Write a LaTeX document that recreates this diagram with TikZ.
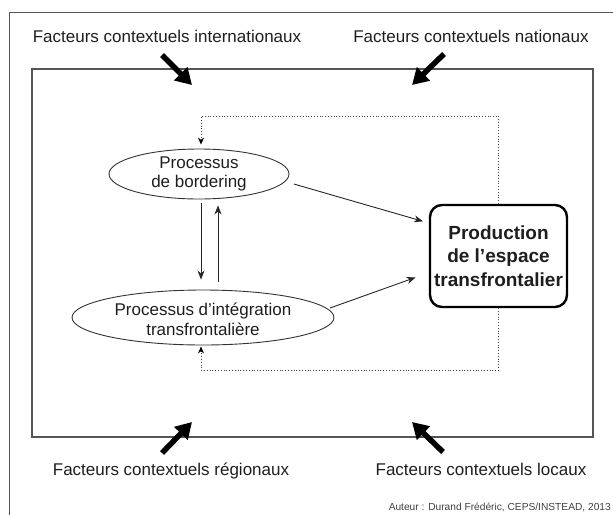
\documentclass[tikz,border=0pt]{standalone}
\usepackage{fontspec}
\setmainfont{Liberation Sans}
\usetikzlibrary{positioning,arrows.meta,calc,shapes.geometric}
\definecolor{framegray}{RGB}{85,85,85}
\definecolor{dotgray}{RGB}{70,70,70}
\definecolor{inkgray}{RGB}{30,30,30}
\tikzset{
  ctxlabel/.style={font=\fontsize{17}{20}\selectfont,inner sep=0pt,text=inkgray},
  procell/.style={draw=black!80,ellipse,line width=0.9pt,inner sep=0pt},
  proctext/.style={align=center,font=\fontsize{17}{19.5}\selectfont,inner sep=0pt,text=inkgray},
  prodbox/.style={draw=black,line width=2.4pt,rounded corners=12pt,minimum width=137pt,minimum height=102pt,align=center,font=\fontsize{19}{23.5}\selectfont\bfseries,text=inkgray},
  flow/.style={-{Stealth[length=9pt,width=7pt]},line width=0.9pt,draw=black!85},
  backflow/.style={-{Stealth[length=7pt,width=6pt,fill=black,color=black]},dotted,line width=0.8pt,draw=dotgray},
  bigarrow/.style={-{Triangle[length=16pt,width=18pt]},line width=5.5pt},
}
\begin{document}
\begin{tikzpicture}[x=1pt,y=-1pt]
  \useasboundingbox (0,0) rectangle (613,515);
  % outer frame, cut at right and bottom
  \draw[framegray,line width=0.9pt] (9,515) -- (9,12) -- (613,12);
  % inner frame
  \node[draw=framegray,line width=1.1pt,minimum width=561pt,minimum height=368pt,inner sep=0pt] (frame) at (312.5,253) {};
  % contextual factors
  \node[ctxlabel,anchor=base] (intl) at (167,42.5) {Facteurs contextuels internationaux};
  \node[ctxlabel,anchor=base] (natl) at (471,42.5) {Facteurs contextuels nationaux};
  \node[ctxlabel,anchor=base] (regl) at (171,475) {Facteurs contextuels régionaux};
  \node[ctxlabel,anchor=base] (locl) at (481,475) {Facteurs contextuels locaux};
  \coordinate (intlS) at (162,55);  \coordinate (intlE) at (192,85);
  \coordinate (natlS) at (444,54);  \coordinate (natlE) at (412,85);
  \coordinate (reglS) at (162,453); \coordinate (reglE) at (192,422);
  \coordinate (loclS) at (443,452); \coordinate (loclE) at (412,422);
  \draw[bigarrow] (intlS) -- (intlE);
  \draw[bigarrow] (natlS) -- (natlE);
  \draw[bigarrow] (reglS) -- (reglE);
  \draw[bigarrow] (loclS) -- (loclE);
  % processes
  \node[procell,minimum width=180pt,minimum height=50pt] (bord) at (199,174) {};
  \node[proctext] (bordtxt) at (bord) {Processus\\de bordering};
  \node[procell,minimum width=262pt,minimum height=55pt] (integ) at (203,317.5) {};
  \node[proctext] (integtxt) at ($(integ)+(0,2)$) {Processus d’intégration\\transfrontalière};
  \node[prodbox] (prod) at (498.5,256) {Production\\de l’espace\\transfrontalier};
  % links between processes
  \draw[flow,shorten <=4pt,shorten >=10pt] ($(bord.south)+(2,0)$) -- ($(bord.south |- integ.north)+(2,0)$);
  \draw[flow,shorten <=8pt,shorten >=6pt] ($(bord.south |- integ.north)+(19,0)$) -- ($(bord.south)+(19,0)$);
  \draw[flow,shorten <=9pt,shorten >=6pt] (bord.-5) -- ($(prod.west)+(0,-33)$);
  \draw[flow,shorten <=2pt,shorten >=14pt] (integ.4) -- ($(prod.west)+(0,16.7)$);
  % dotted feedback loops
  \coordinate (looptop) at (0,116);
  \coordinate (loopbot) at (0,370);
  \draw[backflow,shorten >=4pt] (prod.north) |- ($(bord.north |- looptop)+(2,0)$) -- ($(bord.north)+(2,0)$);
  \draw[backflow,shorten >=1pt] (prod.south) |- ($(integ.south |- loopbot)+(-2,0)$) -- ($(integ.south)+(-2,0)$);
  % credit
  \node[font=\fontsize{10.2}{12}\selectfont,anchor=base east,inner sep=0pt,text=black!75] (author) at (611,510.5) {Auteur : Durand Frédéric, CEPS/INSTEAD, 2013};
\end{tikzpicture}
\end{document}
